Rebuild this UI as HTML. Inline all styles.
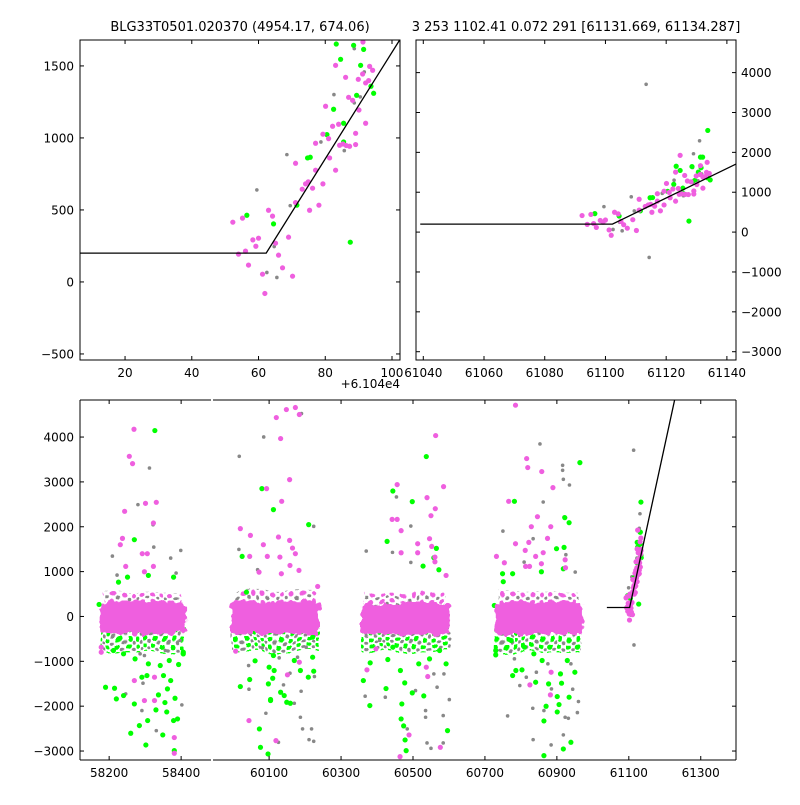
<!DOCTYPE html>
<html><head><meta charset="utf-8">
<style>
html,body{margin:0;padding:0;background:#fff;}
svg text{font-family:"DejaVu Sans","Liberation Sans",sans-serif;font-size:12px;fill:#000;}
</style></head>
<body>
<svg id="chart" width="800" height="800" viewBox="0 0 800 800" xmlns="http://www.w3.org/2000/svg">
<defs>
<clipPath id="cTL"><rect x="80" y="40" width="320" height="320"/></clipPath>
<clipPath id="cTR"><rect x="416" y="40" width="320" height="320"/></clipPath>
<clipPath id="cB1"><rect x="80" y="400" width="131" height="360"/></clipPath>
<clipPath id="cB2"><rect x="213" y="400" width="523" height="360"/></clipPath>
<filter id="rough" x="-10%" y="-30%" width="120%" height="160%">
  <feTurbulence type="fractalNoise" baseFrequency="0.12" numOctaves="2" seed="3" result="n"/>
  <feDisplacementMap in="SourceGraphic" in2="n" scale="10" xChannelSelector="R" yChannelSelector="G"/>
</filter>
<filter id="soft" x="-10%" y="-30%" width="120%" height="160%">
  <feTurbulence type="fractalNoise" baseFrequency="0.05" numOctaves="1" seed="7" result="n"/>
  <feDisplacementMap in="SourceGraphic" in2="n" scale="12" xChannelSelector="R" yChannelSelector="G"/>
</filter>
<pattern id="pLow" width="9" height="7" patternUnits="userSpaceOnUse">
  <circle cx="2" cy="2" r="2.4" fill="#00ff00"/>
  <circle cx="6.5" cy="5" r="1.8" fill="#888888"/>
</pattern>
<pattern id="pHigh" width="10" height="8" patternUnits="userSpaceOnUse">
  <circle cx="2.5" cy="2.5" r="2.5" fill="#ef5fdf"/>
  <circle cx="7.5" cy="6" r="1.8" fill="#888888"/>
</pattern>
</defs>
<text x="240" y="31" text-anchor="middle" style="font-size:13px">BLG33T0501.020370 (4954.17, 674.06)</text>
<text x="576" y="31" text-anchor="middle" style="font-size:13px">3 253 1102.41 0.072 291 [61131.669, 61134.287]</text>
<text x="400" y="388" text-anchor="end">+6.104e4</text>
</svg>
<script>
// ---- data ----
const magT=[58269,58256,58265,58243,58301,58331,58323,58237,58231,58292,58306,58246,58323,58298,58270,58298,58326,58326,58381,58381,58178,58178,
60148,60173,60184,60120,60132,60157,60135,60020,60048,60093,60084,60126,60157,60095,60130,60046,60165,60173,60158,60183,60134,60072,60235,60044,60119,60151,60184,60007,
60563,60456,60585,60539,60562,60550,60442,60456,60467,60546,60513,60513,60467,60552,60561,60561,60592,60372,60397,60489,60464,60576,60541,60537,
60785,60816,60819,60858,60889,60766,60846,60829,60883,60874,60785,60822,60812,60862,60732,60841,60754,60923,60924,60857,60813,60824,60884,60825,60882,
61131.3,61123.1,61133.3,61134.2,61131.2,61126.1,61129.9,61133,61132.1,61127,61128.2,61120.1,61130.1,61124,61122.2,61132.1,61119.3,61121,61129.1,61117.1,61124.3,61125.3,61126.3,61127.3,61129.1,61121.3,61111.1,61117.1,61123.1,61114.9,61114.1,61119.3,61113.1,61116.2,61111.1,61115.3,61118.1,61095.2,61092.3,61103,61104.2,61098.3,61100,61099.2,61109,61105.1,61096.1,61094,61106,61097,61107.2,61101.2,61110.2,61101.9,61124.6,61133.5];
const magF=[4174,3571,3408,2344,2522,2545,2083,1741,1600,1400,1400,1116,1116,997,-1429,-1875,-1354,-1875,-2700,-3050,-685,-797,
4613,4658,4502,4435,3966,3051,2567,1958,1808,2850,1600,1770,1696,1339,1324,1339,1525,1400,1138,1027,953,989,670,-2321,-2768,-1301,-1020,-774,
4033,2940,2895,2649,2403,2247,2165,2165,1913,1734,1622,1421,1421,1562,1324,1220,915,-1190,-721,-2641,-3125,-2917,-1339,-1131,
4710,3520,3320,3230,2873,2567,2225,2002,2002,1741,1622,1652,1473,1422,1339,1339,1198,1265,1086,1176,1116,1116,-1243,-1525,-1748,
1666,1504,1497,1470,1444,1421,1407,1398,1382,1282,1261,1220,1194,1095,1081,1102,1026,995,1032,963,949,958,947,942,954,861,824,776,776,695,681,681,644,651,551,498,533,443,415,498,457,292,304,248,311,269,214,193,186,117,98,54,40,-80,1925,1750];
const grnT=[58327,58270,58172,58190,58215,58220,58240,58260,58270,58284,58302,58307,58330,58337,58349,58355,58360,58362,58371,58379,58383,58390,58381,58305,58291,58351,58406,58406,58393,58240,58212,58272,58309,58342,58367,58379,58251,58226,58309,
60080,60112,60210,60025,60037,60020,60046,60061,60073,60076,60097,60098,60104,60114,60132,60142,60149,60159,60110,60104,60209,60221,60224,60187,60170,60221,60112,60100,
60537,60444,60498,60428,60565,60558,60528,60572,60362,60380,60381,60425,60430,60469,60467,60474,60478,60481,60477,60498,60530,60596,60465,60516,60546,60574,60444,60592,
60964,60782,60922,60934,60899,60920,60918,60749,60777,60751,60857,60726,60730,60730,60777,60786,60803,60841,60870,60864,60864,60901,60906,60918,60939,60934,60950,60913,60901,60877,60910,60859,60836,60929,60957,60810,60773,60880,
61123.3,61128.5,61131.5,61124.6,61130.6,61133.7,61134.5,61129.4,61122.5,61125.5,61120.5,61125.5,61114.7,61115.5,61111.5,61096.5,61104.5,61127.5,61133.7,61131.3,61132];
const grnF=[4145,1712,268,-1578,-1600,-1838,-1763,-2604,-1950,-2433,-2865,-2321,-2083,-1748,-2641,-1920,-2128,-1614,-1429,-2321,-1823,-2284,-2991,-1317,-1354,-1317,-797,-835,-1071,-833,-759,-945,-1056,-1094,-982,877,877,766,915,
2850,2382,2047,1339,542,-1563,-1406,-989,-2507,-2917,-3065,-1503,-1875,-1205,-1690,-1763,-1913,-1935,-1377,-1850,-1354,-908,-1220,-1205,-982,-462,-870,-1131,
3565,2797,2560,1674,1518,1310,1123,1042,-1429,-1987,-1034,-1607,-960,-1950,-2284,-2440,-2753,-2991,-1480,-1704,-1771,-2545,-1205,-1056,-945,-759,-685,-1056,
3430,2567,2203,2091,1511,1540,1064,953,953,775,997,246,-759,-856,-1317,-1205,-1190,-1466,-2002,-2329,-3103,-2128,-1964,-2954,-2805,-1800,-1243,-1488,-1786,-1503,-1280,-982,-833,-982,-685,-685,-536,-685,
1652,1643,1615,1546,1504,1359,1310,1296,1199,1102,1023,972,861,866,533,463,403,276,2550,1880,1880];
const gryT=[58312,58280,58324,58209,58399,58371,58386,58222,58322,58294,58291,58331,58402,58246,58286,58298,58356,58397,
60085,60017,60190,60224,60126,60016,60068,60043,60044,60091,60126,60140,60170,60187,60193,60218,60211,60224,60189,60226,60158,60128,60179,60081,60203,
60370,60454,60494,60443,60494,60367,60423,60535,60535,60567,60584,60601,60539,60550,60584,60484,60507,60558,60586,60407,60495,
60853,60916,60916,60918,60935,60862,60920,60750,60834,60925,60809,60951,60763,60834,60884,60918,60932,60957,60960,60944,60797,60833,60864,60923,60815,60843,60885,60782,60875,60939,
61128.7,61131.7,61122.6,61130.5,61128.7,61118.7,61125.7,61108.5,61099.5,61109.5,61104.7,61102.5,61105.5,61113.4,61131,61129,61114.4];
const gryF=[3310,2493,1547,1346,1473,1301,967,922,2046,-1488,-2098,-2545,-1971,-1726,-833,-870,-759,-536,
4002,3571,4524,2009,1786,1496,1042,-1094,-1622,-2158,-2805,-1525,-1935,-2247,-2507,-2507,-2746,-2783,-1667,-1339,-1265,-922,-908,-699,-685,
1458,2664,2016,1429,1205,-1778,-1800,-2098,-2247,-1577,-2210,-1853,-2820,-2940,-2820,-2507,-1652,-1280,-1280,-536,-536,
3846,3371,3259,3058,2931,2551,2217,1904,1734,1377,1212,989,-2217,-2746,-2864,-2641,-2270,-2143,-1897,-1622,-1540,-2046,-2098,-2247,-1354,-1243,-1615,-945,-1056,-1056,
1620,1458,1301,1285,1243,972,912,884,639,530,246,66,31,3707,2290,1965,-635];
// dense seasonal cores: start, end, low, high
const coreStart=[58175,59994,60354,60726];
const coreEnd=[58411,60240,60603,60971];
const coreLow=[-380,-390,-400,-390];
const coreHigh=[330,340,300,330];
// fit line: flat level then linear rise
const lineT0=61039, lineTb=61102.3, lineLevel=200, lineSlope=37;
// ticks
const tlXTicks=[20,40,60,80,100];
const tlYTicks=[-500,0,500,1000,1500];
const trXTicks=[61040,61060,61080,61100,61120,61140];
const trYTicks=[-3000,-2000,-1000,0,1000,2000,3000,4000];
const bYTicks=[-3000,-2000,-1000,0,1000,2000,3000,4000];
const b1XTicks=[58200,58400];
const b2XTicks=[60100,60300,60500,60700,60900,61100,61300];

const NS='http://www.w3.org/2000/svg';
const svg=document.getElementById('chart');
function mk(tag,attrs,parent){const e=document.createElementNS(NS,tag);for(const k in attrs)e.setAttribute(k,attrs[k]);(parent||svg).appendChild(e);return e;}
function lin(d0,d1,r0,r1){return v=>r0+(v-d0)/(d1-d0)*(r1-r0);}

const panels=[
 {name:'top-left',clip:'cTL',x:lin(61046.5,61142.4,80,400),y:lin(-542,1680,360,40),t0:-1e9,t1:1e9},
 {name:'top-right',clip:'cTR',x:lin(61037.6,61143,416,736),y:lin(-3208,4818,360,40),t0:-1e9,t1:1e9},
 {name:'bottom-left',clip:'cB1',x:lin(58119,58483,80,211),y:lin(-3200,4826,760,400),t0:-1e9,t1:59000},
 {name:'bottom-right',clip:'cB2',x:lin(59944,61398,213,736),y:lin(-3200,4826,760,400),t0:59000,t1:1e9}
];
const MAG='#ef5fdf',GRN='#00ff00',GRY='#888888';
panels.forEach(p=>{
  const g=mk('g',{'clip-path':'url(#'+p.clip+')'});
  
  
  const inR=t=>t>=p.t0&&t<p.t1;
  for(let i=0;i<coreStart.length;i++){
    if(!inR(coreStart[i]))continue;
    const xa=p.x(coreStart[i]),xb=p.x(coreEnd[i]);
    const fr=mk('rect',{x:xa+1,y:p.y(coreLow[i]+150),width:xb-xa-2,height:p.y(-800)-p.y(coreLow[i]+150),fill:'url(#pLow)',filter:'url(#soft)'},g);
    
    
    const fu=mk('rect',{x:xa+4,y:p.y(coreHigh[i]+230),width:xb-xa-8,height:p.y(coreHigh[i]-100)-p.y(coreHigh[i]+230),fill:'url(#pHigh)',filter:'url(#soft)'},g);
    
    
  }
  const pts=(T,F,col,r,nm)=>{for(let i=0;i<T.length;i++){if(!inR(T[i]))continue;
    const c=mk('circle',{cx:p.x(T[i]),cy:p.y(F[i]),r:r,fill:col},g);
    
    }};
  pts(gryT,gryF,GRY,1.8,'gray-point');
  pts(grnT,grnF,GRN,2.6,'green-point');
  for(let i=0;i<coreStart.length;i++){
    if(!inR(coreStart[i]))continue;
    const xa=p.x(coreStart[i]),xb=p.x(coreEnd[i]);
    const cr=mk('rect',{x:xa,y:p.y(coreHigh[i]),width:xb-xa,height:p.y(coreLow[i])-p.y(coreHigh[i]),fill:MAG,rx:4,filter:'url(#rough)'},g);
    
    
  }
  pts(magT,magF,MAG,2.6,'magenta-point');
  if(inR(61100)){
    const tEnd=61400;
    const d='M'+p.x(lineT0)+','+p.y(lineLevel)+' L'+p.x(lineTb)+','+p.y(lineLevel)+' L'+p.x(tEnd)+','+p.y(lineLevel+lineSlope*(tEnd-lineTb));
    const ln=mk('path',{d:d,fill:'none',stroke:'#000','stroke-width':1.3},g);
    
    
  }
});

function line(x1,y1,x2,y2,nm){const l=mk('line',{x1,y1,x2,y2,stroke:'#000','stroke-width':1});
  
  }
function label(x,y,txt,anchor,nm){const t=mk('text',{x,y,'text-anchor':anchor});t.textContent=txt;
  
  }
function fmt(v){return v<0?'\u2212'+Math.abs(v):String(v);}

[[80,40,320,320],[416,40,320,320]].forEach(r=>{
  const f=mk('rect',{x:r[0],y:r[1],width:r[2],height:r[3],fill:'none',stroke:'#000','stroke-width':1});
  
  
});
line(80,400,211,400,'bottom-left-top-spine');line(80,760,211,760,'bottom-left-bottom-spine');line(80,400,80,760,'bottom-left-spine');
line(213,400,736,400,'bottom-right-top-spine');line(213,760,736,760,'bottom-right-bottom-spine');line(736,400,736,760,'bottom-right-spine');

const tl=panels[0];
tlXTicks.forEach(v=>{const x=tl.x(61040+v);line(x,360,x,356,'x-tick');line(x,40,x,44,'x-tick');label(x,377,String(v),'middle','x-tick-label');});
tlYTicks.forEach(v=>{const y=tl.y(v);line(80,y,84,y,'y-tick');line(400,y,396,y,'y-tick');label(74,y+4.5,fmt(v),'end','y-tick-label');});
const tr=panels[1];
trXTicks.forEach(v=>{const x=tr.x(v);line(x,360,x,356,'x-tick');line(x,40,x,44,'x-tick');label(x,377,String(v),'middle','x-tick-label');});
trYTicks.forEach(v=>{const y=tr.y(v);line(416,y,420,y,'y-tick');line(736,y,732,y,'y-tick');label(741,y+4.5,fmt(v),'start','y-tick-label');});
const b1=panels[2],b2=panels[3];
b1XTicks.forEach(v=>{const x=b1.x(v);line(x,760,x,756,'x-tick');line(x,400,x,404,'x-tick');label(x,777,String(v),'middle','x-tick-label');});
b2XTicks.forEach(v=>{const x=b2.x(v);line(x,760,x,756,'x-tick');line(x,400,x,404,'x-tick');label(x,777,String(v),'middle','x-tick-label');});
bYTicks.forEach(v=>{const y=b1.y(v);line(80,y,84,y,'y-tick');line(736,y,732,y,'y-tick');label(74,y+4.5,fmt(v),'end','y-tick-label');});
</script>
</body></html>
